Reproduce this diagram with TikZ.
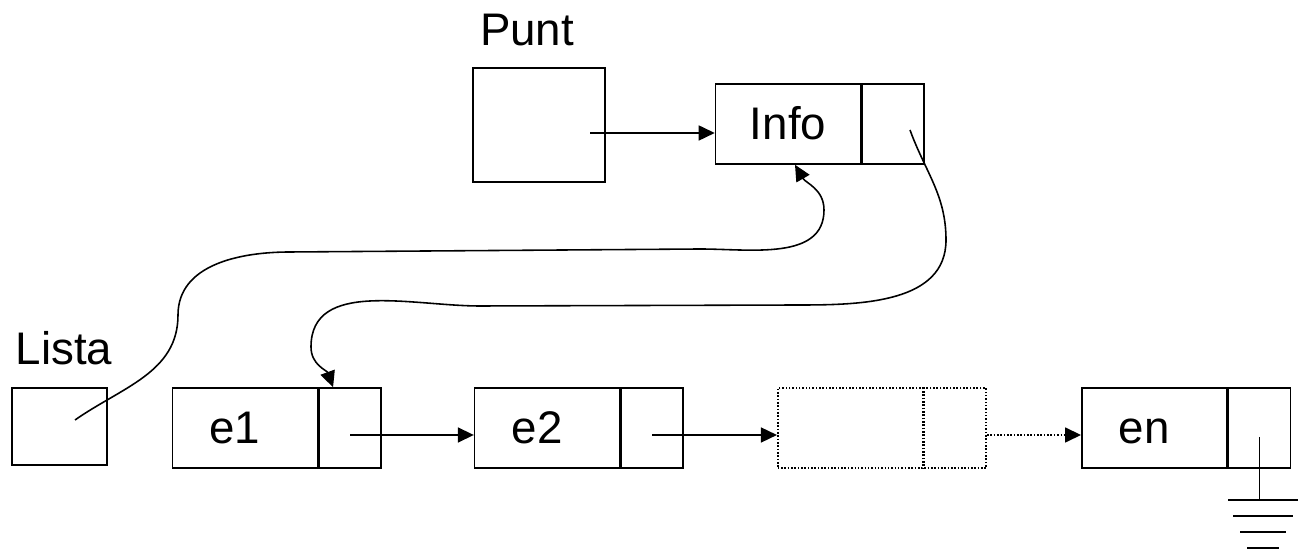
\documentclass[tikz,border=0pt]{standalone}
\usepackage{fontspec}
\setmainfont{Liberation Sans}
\usetikzlibrary{shapes, arrows.meta, positioning, calc}

\begin{document}
\begin{tikzpicture}[x=0.02cm, y=0.02cm, line width=0.9pt,
  every node/.style={font=\fontsize{26}{30}\selectfont},
  cell/.style={draw, minimum width=2.9cm, minimum height=1.6cm, inner sep=0pt,
    text height=18pt, text depth=0pt},
  elem/.style={cell, label={[inner sep=0pt, text height=18pt, text depth=0pt, xshift=-0.2cm]center:#1}},
  ptr/.style={draw, minimum width=1.24cm, minimum height=1.6cm, inner sep=0pt},
  lbl/.style={inner sep=0pt},
  arr/.style={-{Triangle[length=0.32cm, width=0.3cm]}}]
  \useasboundingbox (0,0) rectangle (1298,550);

  % pointer variables
  \node[draw, minimum width=2.64cm, minimum height=2.28cm] (punt) at (539,425) {};
  \node[lbl, above=0.4cm of punt, xshift=-0.24cm] (puntlbl) {Punt};
  \node[draw, minimum width=1.9cm, minimum height=1.54cm] (lista) at (59.5,123.5) {};
  \node[lbl, above=0.42cm of lista, xshift=0.09cm] (listalbl) {Lista};

  % node pointed to by Punt
  \node[cell] (info) at (788,426) {Info};
  \node[ptr, right=0pt of info] (infop) {};

  % the list
  \node[elem=e1] (e1) at (245,122) {};
  \node[ptr, right=0pt of e1] (e1p) {};
  \node[elem=e2, right=1.84cm of e1p] (e2) {};
  \node[ptr, right=0pt of e2] (e2p) {};
  \node[cell, densely dotted, right=1.86cm of e2p] (d) {};
  \node[ptr, densely dotted, right=0pt of d] (dp) {};
  \node[elem=en, right=1.88cm of dp] (en) {};
  \node[ptr, right=0pt of en] (enp) {};

  \coordinate (p0) at (590,417);
  \draw[arr] (p0) -- (p0 -| info.west);

  \path (e1p.center) ++(0,-7) coordinate (a1)
        (e2p.center) ++(0,-7) coordinate (a2)
        (dp.east) ++(0,-7) coordinate (a3);
  \draw[arr] (a1) -- (a1 -| e2.west);
  \draw[arr] (a2) -- (a2 -| d.west);
  \draw[arr, densely dotted] (a3) -- (a3 -| en.west);

  % Lista -> Info
  \coordinate (l0) at (75,130);
  \draw[arr] (l0) to[out=35,in=-90] (178,235) to[out=90,in=180] (290,298)
    -- (700,301) to[out=0,in=-90] (824,340) to[out=90,in=-60] ([xshift=0.14cm]info.south);

  % Info -> e1
  \coordinate (i0) at (910,420);
  \draw[arr] (i0) to[out=-70,in=90] (946,310) to[out=-90,in=0] (800,245)
    -- (480,244) to[out=180,in=90] (311,203) to[out=-90,in=110] ([xshift=-0.34cm]e1p.north);

  % null pointer at the end
  \draw ([yshift=-0.18cm]enp.center) -- ++(0,-63) coordinate (gnd);
  \foreach \w [count=\i from 0] in {70,60,46,32}
    \draw ($(gnd)+(4-\w/2,-16*\i)$) -- ++(\w,0);
\end{tikzpicture}
\end{document}
